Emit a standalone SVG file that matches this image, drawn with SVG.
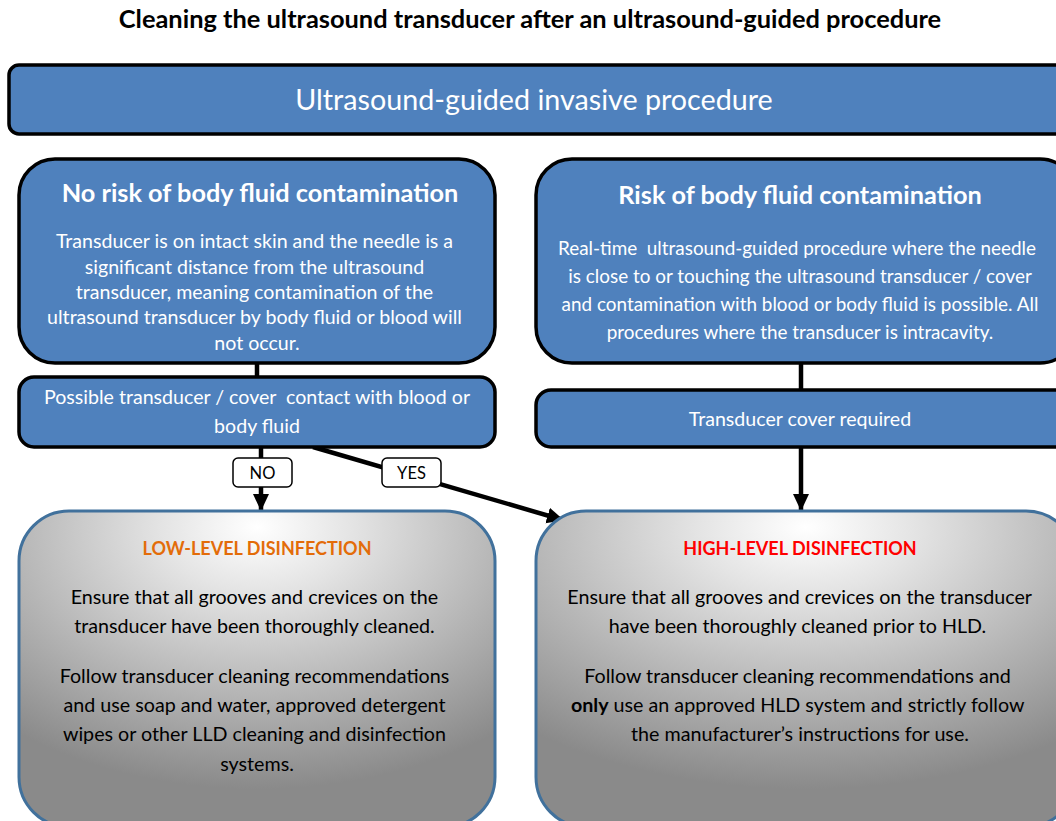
<svg xmlns="http://www.w3.org/2000/svg" width="1056" height="821" viewBox="0 0 1056 821">
<style>
text{font-family:Lato,"Carlito","Open Sans","Liberation Sans",sans-serif;text-anchor:middle}
.blue{fill:#4F81BD;stroke:#000;stroke-width:3.5}
.gray{stroke:#41719C;stroke-width:3}
.w{fill:#fff}
.k{fill:#000}
.hd{font-weight:bold;font-size:25.3px}
.bd{font-size:19.6px}
.bdr{font-size:18.9px}
.gb{font-size:19.7px}
.pre{white-space:pre}
.conn{stroke:#000;stroke-width:4.5;fill:none}
.lbl{fill:#fff;stroke:#000;stroke-width:1.5}
</style>
<defs>
<radialGradient id="gg" cx="0.5" cy="0.08" r="0.8" fx="0.5" fy="0.05">
<stop offset="0" stop-color="#ffffff"/>
<stop offset="0.25" stop-color="#e4e4e4"/>
<stop offset="1" stop-color="#8a8a8a"/>
</radialGradient>
<marker id="ah" markerUnits="userSpaceOnUse" markerWidth="18" markerHeight="18" viewBox="0 0 18 18" refX="16" refY="9" orient="auto">
<path d="M0,1 L17,9 L0,17 Z" fill="#000"/>
</marker>
</defs>
<text x="530" y="28" font-weight="bold" font-size="25.4" class="k">Cleaning the ultrasound transducer after an ultrasound-guided procedure</text>

<g id="n-top">
<rect x="9" y="65" width="1060" height="69" rx="10" class="blue"/>
<text x="534" y="110" font-size="28.7" class="w">Ultrasound-guided invasive procedure</text>
</g>

<g id="connectors">
<line x1="257" y1="363" x2="257" y2="377" class="conn"/>
<line x1="801" y1="363" x2="801" y2="390" class="conn"/>
<line x1="261" y1="447" x2="261" y2="510" class="conn" marker-end="url(#ah)"/>
<line x1="313" y1="447" x2="563" y2="520" class="conn" marker-end="url(#ah)"/>
<line x1="801" y1="447" x2="801" y2="510" class="conn" marker-end="url(#ah)"/>
</g>

<g id="n-norisk">
<rect x="19" y="159" width="476" height="204" rx="36" class="blue"/>
<text x="260" y="202" class="w hd">No risk of body fluid contamination</text>
<text class="w bd" x="257">
<tspan x="257" y="248">Transducer is on intact skin and the needle is a</tspan>
<tspan x="257" y="274">significant distance from the ultrasound</tspan>
<tspan x="257" y="299">transducer, meaning contamination of the</tspan>
<tspan x="257" y="324">ultrasound transducer by body fluid or blood will</tspan>
<tspan x="257" y="350">not occur.</tspan>
</text>
</g>

<g id="n-possible">
<rect x="19" y="377" width="476" height="70" rx="15" class="blue"/>
<text class="w bd pre" xml:space="preserve"><tspan x="257" y="404">Possible transducer / cover  contact with blood or</tspan><tspan x="257" y="433">body fluid</tspan></text>
</g>

<g id="n-risk">
<rect x="536" y="159" width="540" height="204" rx="36" class="blue"/>
<text x="800" y="204" class="w hd">Risk of body fluid contamination</text>
<text class="w bdr pre" xml:space="preserve"><tspan x="797" y="255">Real-time  ultrasound-guided procedure where the needle</tspan><tspan x="800" y="283">is close to or touching the ultrasound transducer / cover</tspan><tspan x="800" y="311">and contamination with blood or body fluid is possible. All</tspan><tspan x="800" y="339">procedures where the transducer is intracavity.</tspan></text>
</g>

<g id="n-cover">
<rect x="536" y="390" width="540" height="57" rx="15" class="blue"/>
<text x="800" y="426" class="w bd">Transducer cover required</text>
</g>

<g id="l-no">
<rect x="233" y="458" width="59" height="29" rx="5" class="lbl"/>
<text x="262.5" y="479" font-size="16.5" class="k">NO</text>
</g>
<g id="l-yes">
<rect x="382" y="458" width="59" height="29" rx="5" class="lbl"/>
<text x="411.5" y="479" font-size="16.5" class="k">YES</text>
</g>

<g id="n-lld">
<rect x="19" y="511" width="476" height="316" rx="50" fill="url(#gg)" class="gray"/>
<text x="257" y="555" font-weight="bold" font-size="18" fill="#E36C09">LOW-LEVEL DISINFECTION</text>
<text class="k gb">
<tspan x="257" y="604">Ensure that all grooves and crevices on the</tspan>
<tspan x="257" y="633">transducer have been thoroughly cleaned.</tspan>
<tspan x="257" y="683">Follow transducer cleaning recommendations</tspan>
<tspan x="257" y="712">and use soap and water, approved detergent</tspan>
<tspan x="257" y="741">wipes or other LLD cleaning and disinfection</tspan>
<tspan x="257" y="771">systems.</tspan>
</text>
</g>

<g id="n-hld">
<rect x="536" y="511" width="540" height="316" rx="50" fill="url(#gg)" class="gray"/>
<text x="800" y="555" font-weight="bold" font-size="18" fill="#FF0000">HIGH-LEVEL DISINFECTION</text>
<text class="k gb">
<tspan x="802" y="604">Ensure that all grooves and crevices on the transducer</tspan>
<tspan x="800" y="633">have been thoroughly cleaned prior to HLD.</tspan>
<tspan x="800" y="683">Follow transducer cleaning recommendations and</tspan>
<tspan x="800" y="712"><tspan font-weight="bold">only</tspan> use an approved HLD system and strictly follow</tspan>
<tspan x="800" y="741">the manufacturer’s instructions for use.</tspan>
</text>
</g>
</svg>
